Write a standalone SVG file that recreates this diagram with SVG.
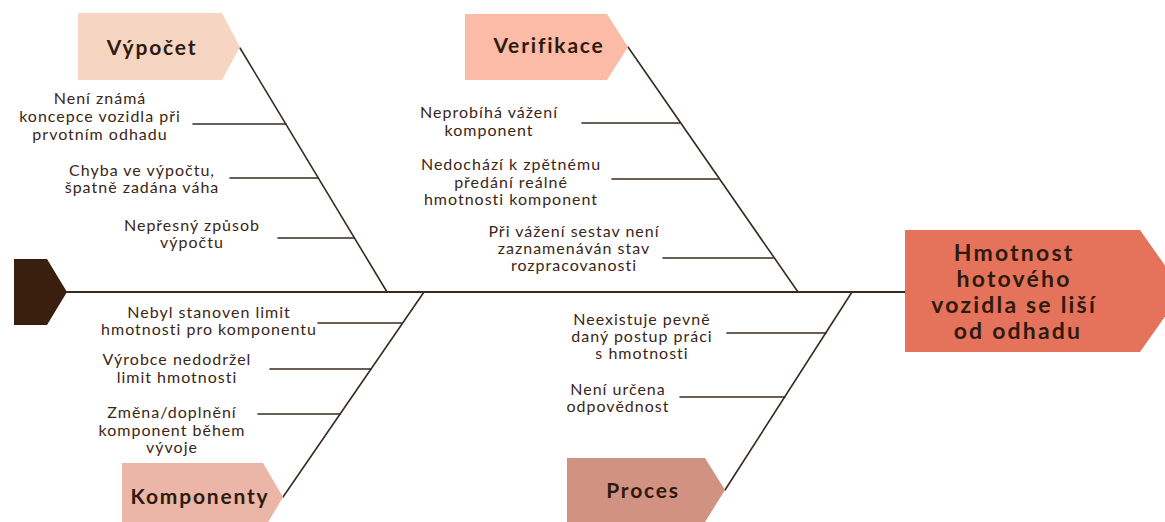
<svg xmlns="http://www.w3.org/2000/svg" width="1165" height="522" viewBox="0 0 1165 522">
  <style>
    .bone { stroke: #3a2a20; stroke-width: 1.6; fill: none; stroke-linecap: round; }
    .spine { stroke: #3a2a20; stroke-width: 2; fill: none; }
    .cause { font-family: Lato, "Liberation Sans", sans-serif; font-size: 16px; letter-spacing: 1px; fill: #3b2618; text-anchor: middle; }
    .title { font-family: Lato, "Liberation Sans", sans-serif; font-size: 21px; font-weight: bold; letter-spacing: 1.8px; fill: #2e1a0e; text-anchor: middle; }
    .head { font-family: Lato, "Liberation Sans", sans-serif; font-size: 23px; font-weight: bold; letter-spacing: 2.2px; fill: #2e1a0e; text-anchor: middle; }
  </style>
  <rect width="1165" height="522" fill="#ffffff"/>

  <!-- spine, ribs and cause lines -->
  <g id="connectors">
    <line class="spine" x1="60" y1="292" x2="906" y2="292"/>
    <!-- Výpočet rib -->
    <line class="bone" x1="240" y1="48" x2="387" y2="292"/>
    <line class="bone" x1="193" y1="124" x2="286" y2="124"/>
    <line class="bone" x1="230" y1="178" x2="318" y2="178"/>
    <line class="bone" x1="278" y1="238" x2="354" y2="238"/>
    <!-- Verifikace rib -->
    <line class="bone" x1="628" y1="47" x2="798" y2="292"/>
    <line class="bone" x1="582" y1="123" x2="680" y2="123"/>
    <line class="bone" x1="612" y1="179" x2="718" y2="179"/>
    <line class="bone" x1="663" y1="258" x2="773" y2="258"/>
    <!-- Komponenty rib -->
    <line class="bone" x1="283" y1="497" x2="424" y2="292"/>
    <line class="bone" x1="318" y1="323" x2="402" y2="323"/>
    <line class="bone" x1="270" y1="369" x2="371" y2="369"/>
    <line class="bone" x1="258" y1="414" x2="340" y2="414"/>
    <!-- Proces rib -->
    <line class="bone" x1="725" y1="490" x2="852" y2="292"/>
    <line class="bone" x1="727" y1="333" x2="826" y2="333"/>
    <line class="bone" x1="680" y1="397" x2="785" y2="397"/>
  </g>

  <!-- tail -->
  <g id="tail">
    <polygon points="14,259 47,259 67,292 47,325 14,325" fill="#3a1f0e"/>
  </g>

  <!-- effect -->
  <g id="head">
    <polygon points="905,230 1140,230 1183,291 1140,352 905,352" fill="#e5735b"/>
    <text class="head">
      <tspan x="1018" y="261">Hmotnost</tspan>
      <tspan x="1018" y="287">hotového</tspan>
      <tspan x="1018" y="313">vozidla se liší</tspan>
      <tspan x="1018" y="339">od odhadu</tspan>
    </text>
  </g>

  <!-- categories -->
  <g id="cat-vypocet">
    <polygon points="78,13 222,13 240,47 222,80 78,80" fill="#f6d6c2"/>
    <text class="title" x="152" y="55">Výpočet</text>
  </g>
  <g id="cat-verifikace">
    <polygon points="465,14 607,14 628,47 607,80 465,80" fill="#fbbba6"/>
    <text class="title" x="549" y="53">Verifikace</text>
  </g>
  <g id="cat-komponenty">
    <polygon points="122,463 263,463 283,497 263,531 122,531" fill="#ebb6a7"/>
    <text class="title" x="200" y="504">Komponenty</text>
  </g>
  <g id="cat-proces">
    <polygon points="567,458 705,458 725,490 705,522 567,522" fill="#d29282"/>
    <text class="title" x="643" y="498">Proces</text>
  </g>

  <!-- causes -->
  <g id="c-vypocet-1">
    <text class="cause"><tspan x="100" y="104">Není známá</tspan><tspan x="100" y="122">koncepce vozidla při</tspan><tspan x="100" y="140">prvotním odhadu</tspan></text>
  </g>
  <g id="c-vypocet-2">
    <text class="cause"><tspan x="142" y="176">Chyba ve výpočtu,</tspan><tspan x="142" y="193">špatně zadána váha</tspan></text>
  </g>
  <g id="c-vypocet-3">
    <text class="cause"><tspan x="192" y="231">Nepřesný způsob</tspan><tspan x="192" y="248">výpočtu</tspan></text>
  </g>
  <g id="c-verifikace-1">
    <text class="cause"><tspan x="489" y="118">Neprobíhá vážení</tspan><tspan x="489" y="136">komponent</tspan></text>
  </g>
  <g id="c-verifikace-2">
    <text class="cause"><tspan x="511" y="170">Nedochází k zpětnému</tspan><tspan x="511" y="188">předání reálné</tspan><tspan x="511" y="205">hmotnosti komponent</tspan></text>
  </g>
  <g id="c-verifikace-3">
    <text class="cause"><tspan x="574" y="237">Při vážení sestav není</tspan><tspan x="574" y="254">zaznamenáván stav</tspan><tspan x="574" y="271">rozpracovanosti</tspan></text>
  </g>
  <g id="c-komponenty-1">
    <text class="cause"><tspan x="209" y="318">Nebyl stanoven limit</tspan><tspan x="209" y="335">hmotnosti pro komponentu</tspan></text>
  </g>
  <g id="c-komponenty-2">
    <text class="cause"><tspan x="177" y="365">Výrobce nedodržel</tspan><tspan x="177" y="383">limit hmotnosti</tspan></text>
  </g>
  <g id="c-komponenty-3">
    <text class="cause"><tspan x="172" y="418">Změna/doplnění</tspan><tspan x="172" y="436">komponent během</tspan><tspan x="172" y="453">vývoje</tspan></text>
  </g>
  <g id="c-proces-1">
    <text class="cause"><tspan x="642" y="325">Neexistuje pevně</tspan><tspan x="642" y="342">daný postup práci</tspan><tspan x="642" y="359">s hmotnosti</tspan></text>
  </g>
  <g id="c-proces-2">
    <text class="cause"><tspan x="618" y="395">Není určena</tspan><tspan x="618" y="412">odpovědnost</tspan></text>
  </g>
</svg>
